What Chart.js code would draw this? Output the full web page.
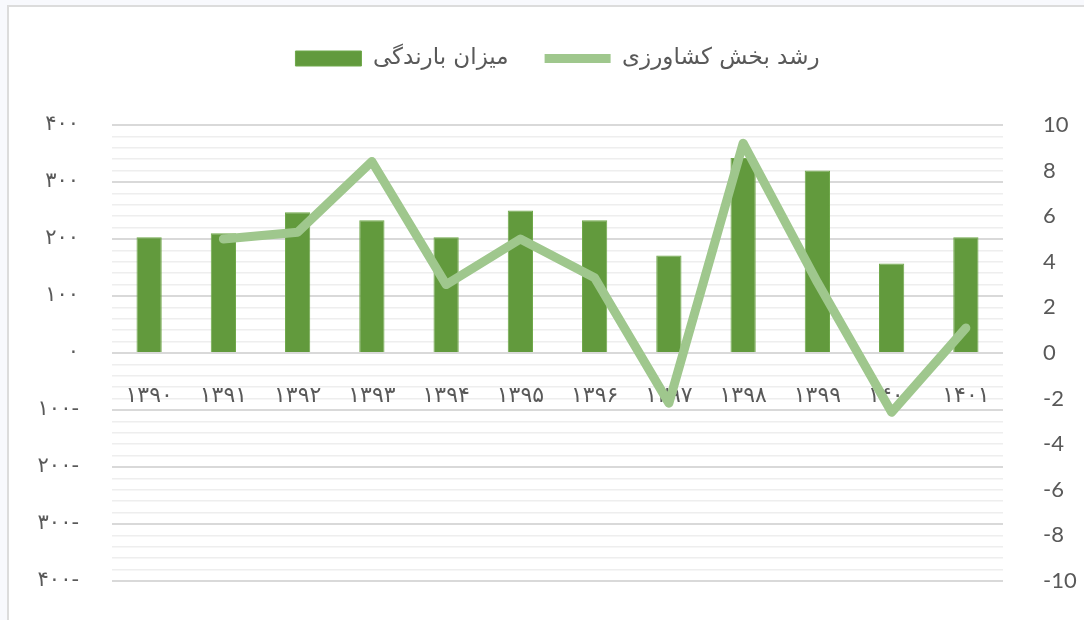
<!DOCTYPE html>
<html>
<head>
<meta charset="utf-8">
<script src="https://cdn.jsdelivr.net/npm/chart.js@4.4.1/dist/chart.umd.min.js"></script>
<style>
  html, body { margin: 0; padding: 0; background: #f8f9fd; width: 1084px; height: 620px; overflow: hidden; }
  #frame { position: absolute; left: 7px; top: 5px; width: 1100px; height: 640px; background: #ffffff;
           border-top: 2px solid #dcdcdc; border-left: 2px solid #dcdcdc; }
  #c { position: absolute; left: 0; top: 0; }
</style>
</head>
<body>
<div id="frame"></div>
<canvas id="c" width="1084" height="620"></canvas>
<script>
const categories = ['۱۳۹۰','۱۳۹۱','۱۳۹۲','۱۳۹۳','۱۳۹۴','۱۳۹۵','۱۳۹۶','۱۳۹۷','۱۳۹۸','۱۳۹۹','۱۴۰۰','۱۴۰۱'];
const rainfall = [203, 210, 247, 233, 203, 250, 233, 171, 342, 320, 157, 203];
const growth = [null, 5.0, 5.3, 8.4, 3.0, 5.0, 3.3, -2.2, 9.2, 3.1, -2.6, 1.1];
const rainfallLabel = 'میزان بارندگی';
const growthLabel = 'رشد بخش کشاورزی';
const leftTickValues = [400, 300, 200, 100, 0, -100, -200, -300, -400];
const leftTickLabels = ['۴۰۰','۳۰۰','۲۰۰','۱۰۰','۰','۱۰۰-','۲۰۰-','۳۰۰-','۴۰۰-'];
const rightTickValues = [10, 8, 6, 4, 2, 0, -2, -4, -6, -8, -10];
const rightTickLabels = ['10','8','6','4','2','0','-2','-4','-6','-8','-10'];

const persianFont = '"DejaVu Sans", sans-serif';
const textColor = '#595959';

new Chart(document.getElementById('c'), {
  data: {
    labels: categories,
    datasets: [
      {
        type: 'bar', label: rainfallLabel, data: rainfall, yAxisID: 'yL', order: 1,
        backgroundColor: '#629a3d', borderColor: '#6fa84a', borderWidth: 1,
        categoryPercentage: 1, barPercentage: 0.34, pointStyle: 'rect'
      },
      {
        type: 'line', label: growthLabel, data: growth, yAxisID: 'yR', order: 0,
        borderColor: '#9fc78d', backgroundColor: '#9fc78d', borderWidth: 9,
        borderCapStyle: 'round', borderJoinStyle: 'round', tension: 0,
        pointRadius: 0, pointHoverRadius: 0, pointStyle: 'line', fill: false
      }
    ]
  },
  options: {
    responsive: false,
    animation: false,
    devicePixelRatio: 1,
    layout: { padding: { top: 11, bottom: 39, left: 0, right: 0 } },
    plugins: {
      tooltip: { enabled: false },
      title: {
        display: true, text: '', weight: 500, position: 'top',
        padding: { top: 25, bottom: 0 }, font: { size: 20, lineHeight: 1 }
      },
      legend: {
        position: 'top',
        fullSize: false,
        labels: {
          usePointStyle: true, pointStyleWidth: 66, boxHeight: 15,
          padding: 36, color: textColor,
          font: { family: persianFont, size: 23 },
          sort: (a, b) => a.datasetIndex - b.datasetIndex
        }
      }
    },
    scales: {
      x: {
        type: 'category',
        position: { yL: 0 },
        offset: true,
        afterFit: s => { s.height = 0; },
        grid: { display: false },
        border: { display: false },
        ticks: {
          color: textColor, font: { family: persianFont, size: 22 },
          padding: 22, maxRotation: 0, autoSkip: false
        }
      },
      yL: {
        type: 'linear', position: 'left', min: -400, max: 400,
        afterFit: s => { s.width = 112; s.paddingTop = 0; s.paddingBottom = 0; },
        border: { display: false },
        grid: {
          drawTicks: false,
          color: ctx => (ctx.tick && ctx.tick.value % 100 === 0) ? '#d9d9d9' : '#eeeeee',
          lineWidth: ctx => (ctx.tick && ctx.tick.value % 100 === 0) ? 2 : 1.5
        },
        ticks: {
          stepSize: 20, autoSkip: false, padding: 33, color: textColor,
          font: { family: persianFont, size: 21 },
          callback: v => { const i = leftTickValues.indexOf(v); return i >= 0 ? leftTickLabels[i] : ''; }
        }
      },
      yR: {
        type: 'linear', position: 'right', min: -10, max: 10,
        afterFit: s => { s.width = 81; s.paddingTop = 0; s.paddingBottom = 0; },
        border: { display: false },
        grid: { display: false, drawTicks: false },
        ticks: {
          stepSize: 2, autoSkip: false, padding: 40, color: textColor,
          font: { family: 'Lato, "Open Sans", sans-serif', size: 22 },
          callback: v => { const i = rightTickValues.indexOf(v); return i >= 0 ? rightTickLabels[i] : ''; }
        }
      }
    }
  }
});
</script>
</body>
</html>
